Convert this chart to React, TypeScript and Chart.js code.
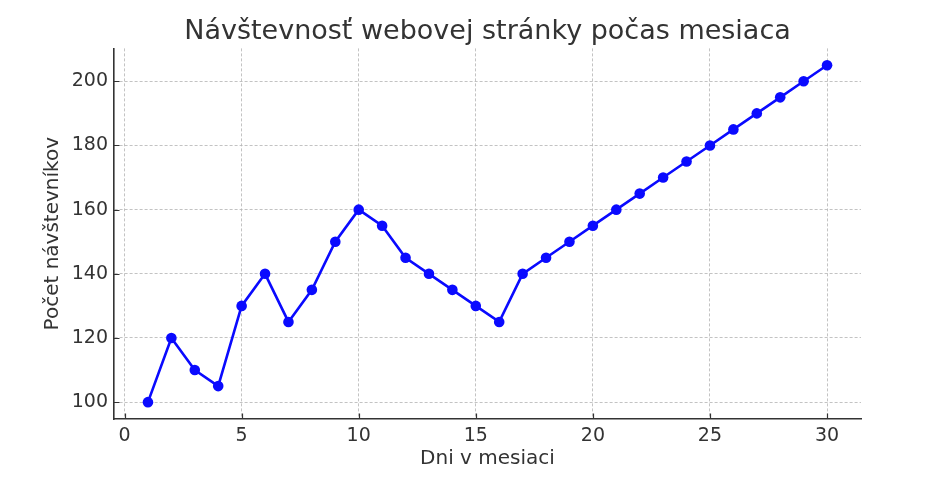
import React, { useEffect, useRef } from "react";
import { Chart, registerables } from "chart.js";

Chart.register(...registerables);

const days: number[] = Array.from({ length: 30 }, (_, i) => i + 1);
const visitors: number[] = [
  100, 120, 110, 105, 130, 140, 125, 135, 150, 160,
  155, 145, 140, 135, 130, 125, 140, 145, 150, 155,
  160, 165, 170, 175, 180, 185, 190, 195, 200, 205,
];
const xTicks: number[] = [0, 5, 10, 15, 20, 25, 30];
const yTicks: number[] = [100, 120, 140, 160, 180, 200];

const TITLE = "Návštevnosť webovej stránky počas mesiaca";
const X_LABEL = "Dni v mesiaci";
const Y_LABEL = "Počet návštevníkov";

const FONT = "'DejaVu Sans', sans-serif";
const TEXT = "#333333";
const GRID = "rgba(180,180,180,0.8)";

const inwardTicks = {
  id: "inwardTicks",
  afterDatasetsDraw(chart: any) {
    const { ctx, chartArea, scales } = chart;
    ctx.save();
    ctx.strokeStyle = TEXT;
    ctx.lineWidth = 1.2;
    const len = 5.5;
    ctx.beginPath();
    for (const t of scales.x.ticks) {
      const px = Math.round(scales.x.getPixelForValue(t.value)) + 0.5;
      ctx.moveTo(px, chartArea.bottom);
      ctx.lineTo(px, chartArea.bottom - len);
    }
    for (const t of scales.y.ticks) {
      const py = Math.round(scales.y.getPixelForValue(t.value)) + 0.5;
      ctx.moveTo(chartArea.left, py);
      ctx.lineTo(chartArea.left + len, py);
    }
    ctx.stroke();
    ctx.restore();
  },
};

export default function App() {
  const ref = useRef<HTMLCanvasElement | null>(null);

  useEffect(() => {
    if (!ref.current) return;
    const chart = new Chart(ref.current, {
      type: "line",
      data: {
        datasets: [
          {
            data: days.map((d, i) => ({ x: d, y: visitors[i] })),
            borderColor: "#0a0aff",
            backgroundColor: "#0a0aff",
            borderWidth: 2.6,
            pointRadius: 5.3,
            pointHoverRadius: 5.3,
            pointBorderWidth: 0,
            tension: 0,
            fill: false,
          },
        ],
      },
      plugins: [inwardTicks],
      options: {
        animation: false,
        responsive: false,
        devicePixelRatio: 1,
        events: [],
        layout: { padding: { left: 0, right: 91, top: 0, bottom: 0 } },
        plugins: {
          legend: { display: false },
          tooltip: { enabled: false },
          title: {
            display: true,
            text: TITLE,
            fullSize: false,
            color: TEXT,
            font: { family: FONT, size: 27, weight: "normal", lineHeight: 1.2 },
            padding: { top: 16, bottom: 0 },
          },
        },
        scales: {
          x: {
            type: "linear",
            min: -0.45,
            max: 31.45,
            afterBuildTicks: (scale: any) => {
              scale.ticks = xTicks.map((v) => ({ value: v }));
            },
            afterFit: (scale: any) => {
              scale.height = 64;
            },
            grid: {
              color: GRID,
              lineWidth: 1,
              drawTicks: false,
              tickLength: 0,
            },
            border: { display: true, color: TEXT, width: 1.6, dash: [3, 2] },
            ticks: {
              color: TEXT,
              font: { family: FONT, size: 19 },
              padding: 6,
              maxRotation: 0,
              autoSkip: false,
            },
            title: {
              display: true,
              text: X_LABEL,
              color: TEXT,
              font: { family: FONT, size: 20, lineHeight: 1.2 },
              padding: { top: 0, bottom: 12 },
            },
          },
          y: {
            type: "linear",
            min: 94.75,
            max: 210.25,
            afterBuildTicks: (scale: any) => {
              scale.ticks = yTicks.map((v) => ({ value: v }));
            },
            afterFit: (scale: any) => {
              scale.width = 114;
            },
            grid: {
              color: GRID,
              lineWidth: 1,
              drawTicks: false,
              tickLength: 0,
            },
            border: { display: true, color: TEXT, width: 1.6, dash: [3, 2] },
            ticks: {
              color: TEXT,
              font: { family: FONT, size: 19 },
              padding: 6,
              autoSkip: false,
            },
            title: {
              display: true,
              text: Y_LABEL,
              color: TEXT,
              font: { family: FONT, size: 20, lineHeight: 1.2 },
              padding: { top: 41, bottom: 0 },
            },
          },
        },
      } as any,
    });
    return () => chart.destroy();
  }, []);

  return (
    <div style={{ position: "fixed", left: 0, top: 0, width: 952, height: 483, background: "#fff" }}>
      <canvas ref={ref} width={952} height={483} style={{ width: 952, height: 483 }} />
    </div>
  );
}
